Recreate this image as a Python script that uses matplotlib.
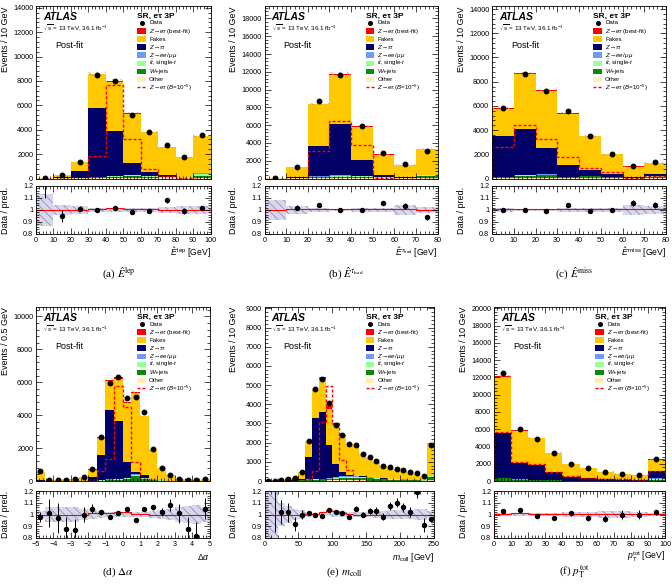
import numpy as np
import matplotlib
matplotlib.use("Agg")
import matplotlib.pyplot as plt
from matplotlib.ticker import AutoMinorLocator, MultipleLocator, FixedLocator, FixedFormatter
from matplotlib.patches import Rectangle
from matplotlib.lines import Line2D

plt.rcParams['font.family'] = ['Liberation Sans', 'DejaVu Sans']
plt.rcParams['mathtext.fontset'] = 'custom'
plt.rcParams['mathtext.rm'] = 'Liberation Sans'
plt.rcParams['mathtext.it'] = 'Liberation Sans:italic'
plt.rcParams['mathtext.bf'] = 'Liberation Sans:bold'
plt.rcParams['hatch.linewidth'] = 0.45

# ── colours ──────────────────────
C_ZET = "#ff0000"
C_FAKES = "#ffc800"
C_ZTT = "#000066"
C_ZLL = "#6f9bf8"
C_TOP = "#99ff99"
C_WJ = "#0a8a0a"
C_OTHER = "#ffeeb4"
C_BAND = "#7c7cac"

# ── (a) E_lep ──────────────────────
a_edges = np.linspace(0, 100, 11)
a_other = [5, 10, 20, 30, 40, 40, 30, 20, 20, 40]
a_wjets = [5, 20, 30, 60, 100, 150, 100, 60, 40, 150]
a_ttbar = [5, 10, 20, 30, 60, 80, 60, 40, 30, 200]
a_zll = [0, 5, 10, 30, 40, 40, 20, 10, 10, 30]
a_ztt = [0, 60, 520, 5650, 3660, 940, 340, 120, 50, 30]
a_fakes = [40, 200, 750, 2750, 4000, 4050, 3250, 2300, 1600, 3000]
a_zet = [0, 0, 0, 50, 120, 60, 20, 10, 0, 0]
a_data = [50, 300, 1350, 8500, 8000, 5200, 3800, 2750, 1750, 3550]
a_sig = [0, 0, 0, 1850, 7700, 3250, 800, 200, 50, 0]
a_ratio = [1.3, 0.95, 1.01, 1.0, 1.02, 0.98, 0.99, 1.08, 0.99, 1.02]
a_rerr = [0.2, 0.05, 0.02, 0.01, 0.01, 0.013, 0.015, 0.02, 0.024, 0.017]
a_band = [0.13, 0.04, 0.03, 0.02, 0.02, 0.02, 0.02, 0.025, 0.03, 0.03]

# ── (b) E_tauhad ──────────────────────
b_edges = np.linspace(0, 80, 9)
b_other = [5, 10, 30, 40, 30, 20, 10, 30]
b_wjets = [0, 20, 120, 150, 150, 60, 20, 200]
b_ttbar = [0, 10, 60, 100, 100, 40, 20, 150]
b_zll = [0, 10, 40, 60, 50, 20, 10, 20]
b_ztt = [0, 150, 3350, 5750, 1720, 210, 90, 30]
b_fakes = [45, 1100, 4740, 5580, 3790, 2330, 1390, 2910]
b_zet = [0, 10, 60, 120, 60, 20, 10, 10]
b_data = [50, 1300, 8700, 11600, 5850, 2850, 1600, 3100]
b_sig = [0, 0, 3100, 6500, 3750, 50, 0, 0]
b_ratio = [np.nan, 1.02, 1.04, 1.0, 1.0, 1.06, 1.03, 0.94]
b_rerr = [0, 0.02, 0.01, 0.01, 0.012, 0.018, 0.025, 0.02]
b_band = [0.08, 0.03, 0.015, 0.012, 0.015, 0.02, 0.04, 0.025]

# ── (c) E_miss ──────────────────────
c_edges = np.linspace(0, 80, 9)
c_other = [30, 40, 40, 30, 20, 10, 5, 10]
c_wjets = [60, 180, 220, 60, 150, 80, 20, 100]
c_ttbar = [40, 60, 60, 40, 50, 40, 10, 60]
c_zll = [20, 30, 30, 20, 20, 10, 5, 20]
c_ztt = [3350, 3790, 2150, 1000, 460, 210, 60, 160]
c_fakes = [2250, 4500, 4750, 4200, 2780, 1640, 890, 940]
c_zet = [50, 100, 50, 50, 20, 10, 10, 10]
c_data = [5800, 8650, 7200, 5600, 3500, 2000, 1050, 1350]
c_sig = [2600, 4450, 3300, 1800, 850, 500, 80, 200]
c_ratio = [1.0, 1.0, 0.99, 1.04, 0.995, 1.0, 1.06, 1.04]
c_rerr = [0.01, 0.01, 0.01, 0.012, 0.015, 0.02, 0.025, 0.025]
c_band = [0.015, 0.012, 0.012, 0.015, 0.015, 0.02, 0.04, 0.035]

# ── (d) delta alpha ──────────────────────
d_edges = np.linspace(-5, 5, 21)
d_other = [10, 2, 2, 2, 2, 5, 5, 10, 20, 20, 20, 30, 30, 20, 10, 5, 3, 2, 2, 5]
d_wjets = [5, 1, 1, 1, 1, 3, 10, 20, 40, 60, 100, 250, 100, 50, 20, 10, 5, 2, 2, 3]
d_ttbar = [3, 1, 1, 1, 1, 1, 3, 10, 20, 40, 50, 80, 50, 20, 5, 3, 1, 1, 1, 1]
d_zll = [2, 1, 1, 1, 1, 1, 2, 10, 20, 30, 40, 70, 20, 10, 5, 2, 1, 0, 0, 1]
d_ztt = [30, 5, 5, 5, 10, 20, 230, 1550, 4200, 3500, 940, 100, 150, 50, 40, 10, 10, 5, 5, 10]
d_fakes = [500, 40, 70, 90, 105, 220, 440, 1020, 1770, 2530, 3560, 4840, 3590, 1750, 720, 320, 130, 90, 60, 100]
d_zet = [0, 0, 0, 0, 0, 0, 10, 30, 80, 120, 90, 30, 10, 0, 0, 0, 0, 0, 0, 0]
d_data = [580, 40, 60, 80, 100, 250, 750, 2650, 5950, 6300, 5050, 5100, 4200, 1950, 800, 380, 150, 70, 50, 120]
d_sig = [0, 0, 0, 0, 0, 0, 30, 600, 1350, 5800, 4500, 1150, 100, 0, 0, 0, 0, 0, 0, 0]
d_ratio = [0.98, 1.01, 0.97, 0.88, 0.87, 1.0, 1.05, 1.02, 0.98, 1.01, 1.05, 0.95, 1.05, 1.06, 1.02, 1.08, 1.01, 0.88, 0.82, 1.05]
d_rerr = [0.04, 0.12, 0.13, 0.1, 0.09, 0.06, 0.04, 0.02, 0.01, 0.01, 0.015, 0.015, 0.015, 0.025, 0.035, 0.05, 0.08, 0.1, 0.12, 0.09]
d_band = [0.03, 0.06, 0.06, 0.06, 0.06, 0.05, 0.04, 0.03, 0.02, 0.02, 0.02, 0.02, 0.02, 0.03, 0.04, 0.05, 0.06, 0.07, 0.08, 0.06]

# ── (e) m_coll ──────────────────────
e_edges = np.linspace(0, 250, 26)
e_other = [2, 2, 4, 5, 5, 10, 20, 20, 20, 30, 30, 30, 30, 30, 30, 25, 20, 20, 15, 15, 10, 10, 10, 5, 40]
e_wjets = [2, 2, 3, 5, 10, 20, 40, 50, 60, 70, 100, 130, 140, 150, 130, 110, 90, 70, 60, 50, 40, 30, 25, 20, 150]
e_ttbar = [1, 1, 2, 3, 3, 7, 15, 20, 25, 30, 50, 60, 60, 50, 45, 45, 35, 30, 25, 20, 20, 15, 10, 10, 50]
e_zll = [0, 0, 1, 2, 2, 3, 5, 10, 15, 20, 20, 30, 20, 20, 15, 20, 15, 10, 10, 5, 10, 5, 5, 5, 20]
e_ztt = [0, 5, 10, 15, 30, 60, 1170, 3200, 3480, 1750, 700, 200, 50, 30, 20, 10, 10, 10, 5, 5, 5, 5, 5, 5, 20]
e_fakes = [15, 20, 40, 70, 150, 350, 840, 1470, 1700, 1850, 2020, 1920, 1640, 1570, 1160, 990, 830, 660, 585, 505, 415, 365, 295, 205, 1720]
e_zet = [0, 0, 0, 0, 0, 0, 10, 30, 100, 150, 80, 30, 10, 0, 0, 0, 0, 0, 0, 0, 0, 0, 0, 0, 0]
e_data = [10, 20, 60, 100, 180, 450, 2100, 4800, 5300, 4050, 2900, 2400, 1950, 1900, 1400, 1250, 1050, 800, 750, 650, 550, 450, 400, 250, 1900]
e_sig = [0, 0, 0, 0, 0, 0, 100, 500, 3100, 4950, 3000, 1100, 550, 100, 0, 0, 0, 0, 0, 0, 0, 0, 0, 0, 0]
e_ratio = [np.nan, 1.3, 1.02, 1.02, 0.92, 1.0, 1.01, 1.0, 0.985, 1.04, 1.02, 1.01, 0.98, 1.05, 1.0, 1.03, 1.03, 0.98, 1.07, 1.10, 1.06, 1.02, 1.19, 0.91, 0.96]
e_rerr = [0, 0.45, 0.1, 0.08, 0.06, 0.04, 0.015, 0.01, 0.01, 0.012, 0.015, 0.015, 0.02, 0.02, 0.02, 0.025, 0.03, 0.03, 0.035, 0.04, 0.04, 0.045, 0.05, 0.06, 0.02]
e_band = [0.3, 0.3, 0.1, 0.07, 0.05, 0.04, 0.02, 0.015, 0.015, 0.015, 0.02, 0.02, 0.02, 0.02, 0.02, 0.025, 0.03, 0.03, 0.035, 0.035, 0.04, 0.04, 0.05, 0.05, 0.03]

# ── (f) pT tot ──────────────────────
f_edges = np.linspace(0, 100, 11)
f_other = [40, 20, 15, 10, 5, 5, 5, 3, 3, 20]
f_wjets = [250, 100, 80, 50, 30, 20, 15, 10, 10, 150]
f_ttbar = [80, 50, 30, 20, 15, 10, 5, 5, 5, 80]
f_zll = [30, 20, 15, 10, 5, 5, 5, 2, 2, 50]
f_ztt = [5200, 1910, 1660, 910, 445, 260, 170, 130, 80, 850]
f_fakes = [6500, 3700, 3160, 2280, 1440, 1195, 895, 695, 545, 1330]
f_zet = [100, 50, 40, 20, 10, 5, 5, 5, 5, 20]
f_data = [12500, 6000, 4900, 3200, 2000, 1450, 1050, 850, 700, 2550]
f_sig = [5700, 2200, 1950, 1050, 550, 350, 250, 200, 120, 1200]
f_ratio = [1.03, 1.035, 0.99, 0.97, 1.01, 0.97, 0.965, 1.0, 1.0, 1.02]
f_rerr = [0.01, 0.013, 0.015, 0.018, 0.023, 0.027, 0.032, 0.035, 0.04, 0.02]
f_band = [0.01, 0.012, 0.012, 0.015, 0.02, 0.02, 0.03, 0.03, 0.025, 0.015]

# ── layout in pixels ──────────────────────
W, H = 672, 587
fig = plt.figure(figsize=(W / 100, H / 100), dpi=100)


def box(l, t, r, b):
    return [l / W, 1 - b / H, (r - l) / W, (b - t) / H]


def put(x, y, s, **kw):
    fig.text(x / W, 1 - y / H, s, **kw)


panels = [
    dict(edges=a_edges, comps=[a_other, a_wjets, a_ttbar, a_zll, a_ztt, a_fakes, a_zet], data=a_data, sig=a_sig,
         ratio=a_ratio, rerr=a_rerr, band=a_band, ymax=14150, ystep=2000, xstep=10,
         cols=(36, 210.5), main=(6, 178.5), rat=(186, 234),
         ylabel="Events / 10 GeV", xlabel=r"$\hat{E}^{\,\mathrm{lep}}$ [GeV]",
         cap=r"(a) $\hat{E}^{\mathrm{lep}}$", capy=273),
    dict(edges=b_edges, comps=[b_other, b_wjets, b_ttbar, b_zll, b_ztt, b_fakes, b_zet], data=b_data, sig=b_sig,
         ratio=b_ratio, rerr=b_rerr, band=b_band, ymax=19400, ystep=2000, xstep=10,
         cols=(264.5, 437.5), main=(6, 178.5), rat=(186, 234),
         ylabel="Events / 10 GeV", xlabel=r"$\hat{E}^{\,\tau_{\mathrm{had}}}$ [GeV]",
         cap=r"(b) $\hat{E}^{\tau_{\mathrm{had}}}$", capy=273),
    dict(edges=c_edges, comps=[c_other, c_wjets, c_ttbar, c_zll, c_ztt, c_fakes, c_zet], data=c_data, sig=c_sig,
         ratio=c_ratio, rerr=c_rerr, band=c_band, ymax=14250, ystep=2000, xstep=10,
         cols=(492, 666), main=(6, 178.5), rat=(186, 234),
         ylabel="Events / 10 GeV", xlabel=r"$\hat{E}^{\,\mathrm{miss}}$ [GeV]",
         cap=r"(c) $\hat{E}^{\mathrm{miss}}$", capy=273),
    dict(edges=d_edges, comps=[d_other, d_wjets, d_ttbar, d_zll, d_ztt, d_fakes, d_zet], data=d_data, sig=d_sig,
         ratio=d_ratio, rerr=d_rerr, band=d_band, ymax=10570, ystep=2000, xstep=1,
         cols=(36, 209.5), main=(307, 481), rat=(491, 538),
         ylabel="Events / 0.5 GeV", xlabel=r"$\Delta\alpha$",
         cap=r"(d) $\Delta\alpha$", capy=572),
    dict(edges=e_edges, comps=[e_other, e_wjets, e_ttbar, e_zll, e_ztt, e_fakes, e_zet], data=e_data, sig=e_sig,
         ratio=e_ratio, rerr=e_rerr, band=e_band, ymax=9070, ystep=1000, xstep=50,
         cols=(264.5, 434), main=(307, 481), rat=(491, 538),
         ylabel="Events / 10 GeV", xlabel=r"$m_{\mathrm{coll}}$ [GeV]",
         cap=r"(e) $m_{\mathrm{coll}}$", capy=572),
    dict(edges=f_edges, comps=[f_other, f_wjets, f_ttbar, f_zll, f_ztt, f_fakes, f_zet], data=f_data, sig=f_sig,
         ratio=f_ratio, rerr=f_rerr, band=f_band, ymax=20150, ystep=2000, xstep=10,
         cols=(494, 665), main=(307, 481), rat=(491, 538),
         ylabel="Events / 10 GeV", xlabel=r"$p_{\mathrm{T}}^{\mathrm{tot}}$ [GeV]",
         cap=r"(f) $p_{\mathrm{T}}^{\mathrm{tot}}$", capy=572),
]

comp_colors = [C_OTHER, C_WJ, C_TOP, C_ZLL, C_ZTT, C_FAKES, C_ZET]

legend_rows = [
    ("data", "Data"),
    (C_ZET, r"$Z\!\rightarrow\! e\tau$ (best-fit)"),
    (C_FAKES, "Fakes"),
    (C_ZTT, r"$Z\!\rightarrow\!\tau\tau$"),
    (C_ZLL, r"$Z\!\rightarrow\! ee\,/\mu\mu$"),
    (C_TOP, r"$t\bar{t}$, single-$t$"),
    (C_WJ, r"$W$+jets"),
    (C_OTHER, "Other"),
    ("sig", r"$Z\!\rightarrow\! e\tau$ ($B$=10$^{-5}$)"),
]


def style(ax, xstep):
    ax.xaxis.set_major_locator(MultipleLocator(xstep))
    ax.xaxis.set_minor_locator(AutoMinorLocator(5))
    ax.yaxis.set_minor_locator(AutoMinorLocator(5))
    ax.tick_params(which="both", direction="in", top=True, right=True, labelsize=5.2, pad=2, width=0.5)
    ax.tick_params(which="major", length=4)
    ax.tick_params(which="minor", length=2)
    for s in ax.spines.values():
        s.set_linewidth(0.6)


for p in panels:
    edges = p["edges"]
    centers = (edges[:-1] + edges[1:]) / 2
    l, r = p["cols"]
    ax = fig.add_axes(box(l, p["main"][0], r, p["main"][1]))
    rx = fig.add_axes(box(l, p["rat"][0], r, p["rat"][1]), sharex=ax)

    # stacked backgrounds
    stack = np.cumsum(np.array(p["comps"], dtype=float), axis=0)
    base = np.zeros(len(centers))
    for top, col in zip(stack, comp_colors):
        ax.stairs(top, edges, baseline=base, fill=True, color=col, lw=0)
        base = top
    total = stack[-1]
    band = np.array(p["band"])
    ax.stairs(total * (1 + band), edges, baseline=total * (1 - band), fill=True,
              facecolor="none", edgecolor="#9a9ab0", hatch="\\\\\\\\", lw=0)
    ax.stairs(p["sig"], edges, color=C_ZET, lw=1.0, linestyle=(0, (2.2, 1.4)))
    ax.plot(centers, p["data"], "o", color="black", ms=3.2, zorder=5)

    ax.set_xlim(edges[0], edges[-1])
    ax.set_ylim(0, p["ymax"])
    ax.yaxis.set_major_locator(MultipleLocator(p["ystep"]))
    style(ax, p["xstep"])
    ax.tick_params(labelbottom=False)
    ax.set_ylabel(p["ylabel"], fontsize=6.5, loc="top")

    # ratio panel
    rx.stairs(1 + band, edges, baseline=1 - band, fill=True, facecolor="#d8d8ec",
              edgecolor=C_BAND, hatch="\\\\\\\\", lw=0)
    zet = np.array(p["comps"][-1], dtype=float)
    rx.stairs(total / (total - zet), edges, color=C_ZET, lw=0.8)
    rx.errorbar(centers, p["ratio"], yerr=p["rerr"], fmt="o", color="black", ms=2.9,
                elinewidth=0.7, capsize=0, zorder=5)
    rx.set_ylim(0.8, 1.2)
    rx.yaxis.set_major_locator(FixedLocator([0.8, 0.9, 1.0, 1.1, 1.2]))
    rx.yaxis.set_major_formatter(FixedFormatter(["0.8", "0.9", "1", "1.1", "1.2"]))
    style(rx, p["xstep"])
    rx.set_ylabel("Data / pred.", fontsize=6.5)

    # y labels 26 px left of the frame
    ax.yaxis.set_label_coords(-26 / (r - l), 1.0)
    rx.yaxis.set_label_coords(-26 / (r - l), 0.5)

    # x label and caption
    put(r, p["rat"][1] + 19, p["xlabel"], ha="right", va="center", fontsize=6.2)
    put((l + r) / 2 - 5, p["capy"], p["cap"], ha="center", va="center", fontsize=8,
        family="Liberation Serif", math_fontfamily="stix")

    # annotations
    t = p["main"][0]
    put(l + 7, t + 11, "ATLAS", fontsize=7.5, fontweight="bold", fontstyle="italic", va="center")
    put(l + 7, t + 22, r"$\sqrt{s}$ = 13 TeV, 36.1 fb$^{-1}$", fontsize=4.5, va="center")
    put(l + 19, t + 39.5, "Post-fit", fontsize=6.5, va="center")
    put(l + 101, t + 10, "SR, eτ 3P", fontsize=6, fontweight="bold", va="center")
    for i, (kind, label) in enumerate(legend_rows):
        y = t + 17 + 8.05 * i
        x0 = l + 101
        if kind == "data":
            fig.add_artist(Line2D([(x0 + 4.5) / W], [1 - y / H], marker="o", color="black", ms=2.6, lw=0))
        elif kind == "sig":
            fig.add_artist(Line2D([x0 / W, (x0 + 9) / W], [1 - y / H] * 2, color=C_ZET, lw=1.0,
                                  linestyle=(0, (2.2, 1.4))))
        else:
            fig.add_artist(Rectangle((x0 / W, 1 - (y + 2.7) / H), 9 / W, 5.4 / H,
                                     transform=fig.transFigure, facecolor=kind, lw=0))
        put(x0 + 12, y, label, fontsize=4.4, va="center")

fig.savefig("out.png", dpi=100)
